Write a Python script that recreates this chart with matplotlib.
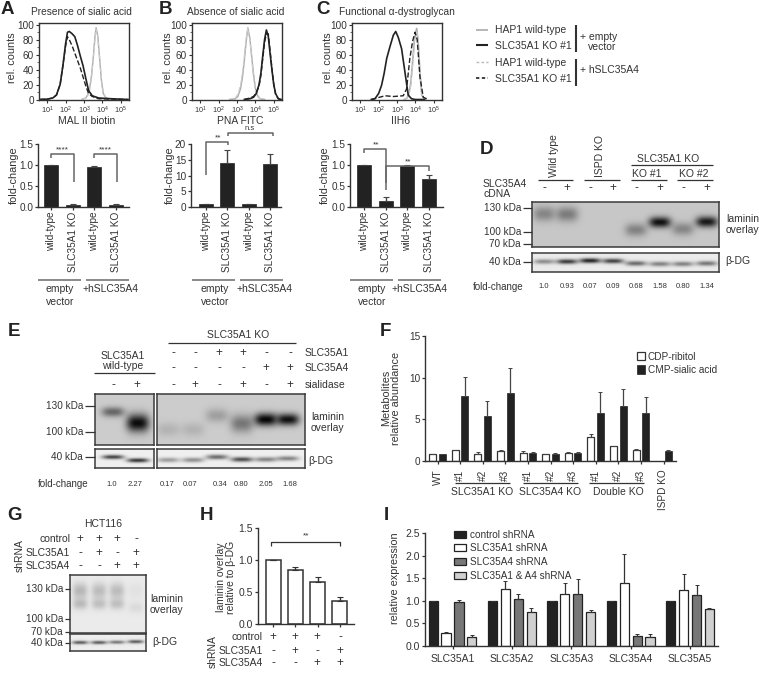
import matplotlib
matplotlib.use("Agg")
import matplotlib.pyplot as plt
import numpy as np
from matplotlib.patches import Patch

plt.rcParams['font.family'] = ['Liberation Sans', 'DejaVu Sans']
plt.rcParams['mathtext.default'] = 'regular'
plt.rcParams['text.color'] = '#333333'
plt.rcParams['axes.labelcolor'] = '#333333'
plt.rcParams['xtick.labelcolor'] = '#333333'
plt.rcParams['ytick.labelcolor'] = '#333333'

W, H = 759, 673
DARK = '#222222'
GREY = '#aaaaaa'

# flow cytometry curves, log10 intensity vs rel. counts
a_wt_log = [2.9, 3.1, 3.2, 3.3, 3.4, 3.5, 3.6, 3.66, 3.75, 3.85, 3.95, 4.05, 4.2, 4.4]
a_wt_ev = [0.5, 2, 6, 14, 30, 55, 85, 96, 85, 55, 25, 8, 2, 0.5]
a_wt_a4 = [0.5, 2, 5, 12, 28, 52, 82, 94, 84, 56, 26, 9, 2, 0.5]
a_ko_log = [0.6, 1.0, 1.3, 1.5, 1.7, 1.85, 2.0, 2.1, 2.2, 2.35, 2.5, 2.65, 2.8, 2.95, 3.1, 3.25, 3.45, 3.8, 4.5, 5.4]
a_ko_ev = [0, 0.5, 2, 6, 20, 45, 75, 90, 91, 88, 84, 72, 58, 45, 28, 12, 5, 2, 1, 0]
a_ko_a4 = [0, 0.5, 2, 6, 20, 45, 72, 84, 80, 72, 62, 52, 42, 30, 18, 8, 4, 1, 0.5, 0]

b_wt_log = [2.6, 2.9, 3.05, 3.2, 3.3, 3.4, 3.5, 3.59, 3.7, 3.8, 3.9, 4.0, 4.1, 4.25, 4.5]
b_wt_ev = [0, 1, 4, 15, 30, 52, 78, 96, 82, 58, 34, 15, 6, 1, 0]
b_wt_a4 = [0, 2, 7, 20, 36, 58, 82, 95, 80, 54, 30, 12, 4, 1, 0]
b_ko_log = [3.4, 3.7, 3.9, 4.05, 4.2, 4.3, 4.4, 4.5, 4.6, 4.7, 4.8, 4.9, 5.0, 5.1, 5.25, 5.4]
b_ko_ev = [0, 1, 3, 8, 20, 35, 58, 80, 93, 85, 62, 40, 20, 8, 1, 0]
b_ko_a4 = [0, 2, 4, 9, 18, 32, 54, 76, 88, 88, 66, 42, 21, 7, 1, 0]

c_wt_log = [3.4, 3.55, 3.65, 3.75, 3.85, 3.95, 4.07, 4.15, 4.25, 4.35, 4.5]
c_wt_ev = [0, 2, 8, 22, 50, 80, 95, 78, 35, 6, 0]
c_wt_a4 = [0, 2, 6, 18, 45, 78, 92, 80, 38, 7, 0]
c_ko_log = [1.6, 1.8, 2.0, 2.16, 2.3, 2.44, 2.62, 2.8, 2.93, 3.07, 3.25, 3.43, 3.61, 3.79, 4.0, 4.5]
c_ko_ev = [0, 1, 8, 19, 35, 55, 71, 86, 91, 83, 68, 37, 6, 1, 0, 0]
c_koa4_log = [1.6, 1.9, 2.35, 2.8, 3.34, 3.52, 3.7, 3.85, 3.98, 4.1, 4.25, 4.43, 4.7]
c_koa4_cnt = [0, 2, 5, 4, 5, 14, 55, 78, 90, 80, 30, 3, 0]

# fold-change bars
bar_labels = ['wild-type', 'SLC35A1 KO', 'wild-type', 'SLC35A1 KO']
a_vals = [1.0, 0.05, 0.96, 0.05]
a_errs = [0.0, 0.01, 0.02, 0.01]
b_vals = [1.0, 14.0, 1.0, 13.5]
b_errs = [0.1, 4.2, 0.1, 3.4]
c_vals = [1.0, 0.15, 0.98, 0.67]
c_errs = [0.0, 0.1, 0.03, 0.1]

# panel F
f_labels = ['WT', '#1', '#2', '#3', '#1', '#2', '#3', '#1', '#2', '#3', 'ISPD KO']
f_ribitol = [0.9, 1.3, 0.9, 1.2, 1.0, 0.85, 1.0, 2.85, 1.75, 1.35, 0.0]
f_ribitol_err = [0.0, 0.05, 0.2, 0.1, 0.2, 0.05, 0.1, 0.45, 0.05, 0.1, 0.0]
f_sialic = [0.9, 7.8, 5.4, 8.2, 1.0, 0.9, 1.0, 5.8, 6.6, 5.75, 1.2]
f_sialic_err = [0.0, 2.3, 1.75, 2.95, 0.1, 0.05, 0.05, 2.5, 2.0, 1.9, 0.15]

# panel H
h_vals = [1.0, 0.84, 0.66, 0.36]
h_errs = [0.0, 0.05, 0.08, 0.06]

# panel I
i_genes = ['SLC35A1', 'SLC35A2', 'SLC35A3', 'SLC35A4', 'SLC35A5']
i_names = ['control shRNA', 'SLC35A1 shRNA', 'SLC35A4 shRNA', 'SLC35A1 & A4 shRNA']
i_vals = [[1, 1, 1, 1, 1],
          [0.28, 1.27, 1.15, 1.39, 1.24],
          [0.97, 1.05, 1.15, 0.22, 1.12],
          [0.20, 0.76, 0.76, 0.19, 0.81]]
i_errs = [[0, 0, 0, 0, 0],
          [0.02, 0.17, 0.25, 0.65, 0.35],
          [0.05, 0.10, 0.33, 0.05, 0.24],
          [0.05, 0.09, 0.04, 0.08, 0.04]]

# blots: band darkness per lane and band height inside the blot (0 top, 1 bottom)
d_dark = [0.33, 0.38, 0, 0, 0.35, 0.92, 0.33, 0.88]
d_pos = [0.26, 0.27, 0.5, 0.5, 0.62, 0.45, 0.6, 0.44]
d_ld_dark = [0.4, 0.75, 0.85, 0.72, 0.55, 0.45, 0.45, 0.5]
d_fold = ['1.0', '0.93', '0.07', '0.09', '0.68', '1.58', '0.80', '1.34']
e_wt_dark = [0.5, 0.95]
e_wt_pos = [0.35, 0.57]
e_ko_dark = [0.12, 0.12, 0.22, 0.42, 0.97, 0.92]
e_ko_pos = [0.70, 0.70, 0.42, 0.58, 0.50, 0.50]
e_ld_wt = [0.72, 0.78]
e_ld_ko = [0.35, 0.4, 0.55, 0.68, 0.45, 0.45]
e_fold = ['1.0', '2.27', '0.17', '0.07', '0.34', '0.80', '2.05', '1.68']
g_upper = [0.22, 0.2, 0.2, 0.04]
g_lower = [0.2, 0.18, 0.18, 0.07]
g_ld_dark = [0.62, 0.62, 0.5, 0.62]

fig = plt.figure(figsize=(W / 100, H / 100), dpi=100)
ov = fig.add_axes([0, 0, 1, 1], zorder=10)
ov.set_xlim(0, W)
ov.set_ylim(H, 0)
ov.axis('off')


def px_axes(left, top, right, bottom):
    return fig.add_axes([left / W, 1 - bottom / H, (right - left) / W, (bottom - top) / H])


def txt(x, y, s, size=7.5, ha='left', **kw):
    ov.text(x, y, s, fontsize=size, ha=ha, va='center', **kw)


def seg(xs, ys, color='#333333', lw=1.0, **kw):
    ov.plot(xs, ys, color=color, lw=lw, solid_capstyle='butt', **kw)


def letter(x, y, s):
    txt(x, y, s, size=13.5, fontweight='bold', color='#222222')


def style(ax, size=7.2):
    for side in ['top', 'right']:
        ax.spines[side].set_visible(False)
    for side in ['left', 'bottom']:
        ax.spines[side].set_linewidth(1.0)
        ax.spines[side].set_color('#333333')
    ax.tick_params(length=2.5, width=0.9, labelsize=size, pad=1, color='#333333')


def ylab(ax, s, x, y, size=7.8):
    ax.set_ylabel(s, fontsize=size, va='center', ha='center', linespacing=1.05)
    ax.yaxis.set_label_coords(x, y, transform=ov.transData)


def hist_panel(left, xlabel, curves, title, title_x, ylab_x):
    ax = px_axes(left, 22.5, left + 90, 99.5)
    for lx, cnt, color, ls, lw in curves:
        ax.plot(10 ** np.array(lx), cnt, color=color, ls=ls, lw=lw)
    ax.set_xscale('log')
    ax.set_xlim(10 ** 0.55, 10 ** 5.45)
    ax.set_ylim(0, 103)
    ax.set_yticks([0, 20, 40, 60, 80, 100])
    ax.set_yticks([10, 30, 50, 70, 90], minor=True)
    ax.set_xticks([10, 100, 1000, 10000, 100000])
    ax.set_xticklabels(['$10^{%d}$' % i for i in range(1, 6)])
    ax.tick_params(length=2.5, width=0.8, labelsize=7.2, pad=1, color='#333333')
    ax.tick_params(axis='x', labelsize=5.2, pad=1.5)
    ax.tick_params(which='minor', length=1.3, width=0.5, color='#333333')
    for sp in ax.spines.values():
        sp.set_linewidth(1.0)
        sp.set_color('#333333')
    ylab(ax, 'rel. counts', ylab_x, 58)
    ax.set_xlabel(xlabel, fontsize=7.5, va='center')
    ax.xaxis.set_label_coords(left + 48, 120.5, transform=ov.transData)
    txt(title_x, 12, title, size=7.3)
    return ax


def fold_panel(left, right, first, step, vals, errs, ymax, yticks, fmt, ylab_x):
    ax = px_axes(left, 144, right, 207)
    x = np.arange(len(vals))
    ax.bar(x, vals, width=14 / step, color=DARK, edgecolor=DARK, lw=0.5)
    ax.errorbar(x, vals, yerr=[np.zeros(len(errs)), errs], fmt='none',
                ecolor='#444444', elinewidth=1.0, capsize=2, capthick=0.8)
    ax.set_xlim((left - first) / step, (right - first) / step)
    ax.set_ylim(0, ymax)
    ax.set_yticks(yticks)
    ax.set_yticklabels([fmt % t for t in yticks])
    ax.set_xticks(x)
    ax.set_xticklabels(bar_labels, rotation=90)
    style(ax, 7.2)
    ylab(ax, 'fold-change', ylab_x, 175)
    return ax


def blot(left, top, right, bottom, bg, lanes, dark, pos, sx=9.0, sy=3.5):
    # gaussian bands on a grey membrane, sy may be one value per lane
    xs = np.linspace(left, right, int((right - left) * 2))
    ys = np.linspace(top, bottom, int((bottom - top) * 2))
    X, Y = np.meshgrid(xs, ys)
    img = np.full(X.shape, float(bg))
    sy_all = np.broadcast_to(sy, (len(lanes),))
    for lane, d, p, s in zip(lanes, dark, pos, sy_all):
        yc = top + p * (bottom - top)
        band = np.exp(-(np.abs(X - lane) / sx) ** 3) * np.exp(-((Y - yc) / s) ** 2)
        img = img * (1 - d * band)
    ax = px_axes(left, top, right, bottom)
    ax.imshow(img, cmap='gray', vmin=0, vmax=1, aspect='auto', interpolation='bilinear',
              extent=(left, right, bottom, top))
    ax.set_xticks([])
    ax.set_yticks([])
    for sp in ax.spines.values():
        sp.set_linewidth(1.1)
        sp.set_color('#3a3a3a')
    return ax


def size_marks(labels, ys, right, tick_end):
    for lab, y in zip(labels, ys):
        txt(right, y, lab, ha='right', size=7.2)
        seg([right + 2, tick_end], [y, y], lw=0.9)


# A B C histograms
letter(1, 10, 'A')
letter(159, 10, 'B')
letter(316, 10, 'C')
hist_panel(39, 'MAL II biotin',
           [(a_wt_log, a_wt_ev, GREY, '-', 1.0), (a_wt_log, a_wt_a4, '#cccccc', '--', 0.9),
            (a_ko_log, a_ko_ev, DARK, '-', 1.2), (a_ko_log, a_ko_a4, DARK, '--', 1.0)],
           'Presence of sialic acid', 31, 12)
hist_panel(192, 'PNA FITC',
           [(b_wt_log, b_wt_ev, GREY, '-', 1.0), (b_wt_log, b_wt_a4, '#cccccc', '--', 0.9),
            (b_ko_log, b_ko_ev, DARK, '-', 1.2), (b_ko_log, b_ko_a4, DARK, '--', 1.0)],
           'Absence of sialic acid', 187, 168)
hist_panel(352, 'IIH6',
           [(c_wt_log, c_wt_ev, GREY, '-', 1.2), (c_wt_log, c_wt_a4, '#cccccc', '--', 0.9),
            (c_ko_log, c_ko_ev, DARK, '-', 1.2), (c_koa4_log, c_koa4_cnt, DARK, '--', 1.0)],
           'Functional α-dystroglycan', 339, 328)

# legend next to the histograms
seg([476, 488], [30, 30], color=GREY, lw=1.2)
seg([476, 488], [45, 45], color=DARK, lw=1.5)
seg([476, 488], [62, 62], color='#bbbbbb', lw=1.0, ls=(0, (2, 1.5)))
seg([476, 488], [78, 78], color=DARK, lw=1.2, ls=(0, (2, 1.5)))
txt(495, 30, 'HAP1 wild-type')
txt(495, 46, 'SLC35A1 KO #1')
txt(495, 63, 'HAP1 wild-type')
txt(495, 79, 'SLC35A1 KO #1')
seg([576, 576], [25, 52], lw=1.5)
seg([576, 576], [59, 86], lw=1.5)
txt(580, 37, '+ empty')
txt(588, 47, 'vector')
txt(580, 70, '+ hSLC35A4')

# A B C bars
fold_panel(38, 129, 51, 21.7, a_vals, a_errs, 1.5, [0.0, 0.5, 1.0, 1.5], '%.1f', 14)
fold_panel(191, 281, 206, 21.3, b_vals, b_errs, 20, [0, 5, 10, 15, 20], '%d', 170)
fold_panel(350, 443, 364, 21.7, c_vals, c_errs, 1.5, [0.0, 0.5, 1.0, 1.5], '%.1f', 325)

seg([51, 51, 74, 74], [158, 153.5, 153.5, 182], color='#666666', lw=1.1)
seg([94, 94, 116.5, 116.5], [158, 153.5, 153.5, 182], color='#666666', lw=1.1)
txt(62.5, 150, '****', size=6, ha='center')
txt(105, 150, '****', size=6, ha='center')
seg([206, 206, 228, 228], [175, 142, 142, 145], color='#666666', lw=1.1)
seg([228, 228, 272.5, 272.5], [135.5, 133.3, 133.3, 135.5], color='#666666', lw=1.1)
txt(218, 138, '**', size=6, ha='center')
txt(250, 128, 'n.s', size=5.5, ha='center')
seg([364, 364, 386, 386], [153, 149, 149, 183], color='#666666', lw=1.1)
seg([386, 386, 429, 429], [190, 166, 166, 171], color='#666666', lw=1.1)
txt(376, 145, '**', size=6, ha='center')
txt(408, 162, '**', size=6, ha='center')

for x0, x1, x2, x3, cx1, cx2 in [(38, 81, 86, 129, 60, 111),
                                 (192, 235, 240, 283, 215, 265),
                                 (350, 393, 398, 441, 372, 420)]:
    seg([x0, x1], [280, 280], color='#777777', lw=1.2)
    seg([x2, x3], [280, 280], color='#777777', lw=1.2)
    txt(cx1, 289, 'empty', ha='center')
    txt(cx1, 302, 'vector', ha='center')
    txt(cx2, 289, '+hSLC35A4', ha='center')

# D
letter(480, 150, 'D')
d_lanes = np.array([544, 567, 590, 613, 636, 660, 683, 707])
blot(532, 202, 719, 247, 0.78, d_lanes, d_dark, d_pos, sx=11,
     sy=[7.5, 7.5, 5, 5, 6.5, 5.5, 6.5, 5.5])
blot(532, 253, 719, 272, 0.92, d_lanes, d_ld_dark, [0.45, 0.45, 0.4, 0.42, 0.55, 0.58, 0.58, 0.55], sx=10.5, sy=2.5)
txt(554, 156, 'Wild type', rotation=90, ha='center')
txt(600, 156, 'ISPD KO', rotation=90, ha='center')
for x0, x1 in [(538, 573), (584, 620), (631, 667), (677, 713)]:
    seg([x0, x1], [180, 180], lw=0.9)
seg([631, 713], [165, 165], lw=0.9)
txt(668, 159, 'SLC35A1 KO', ha='center')
txt(647, 174, 'KO #1', ha='center')
txt(694, 174, 'KO #2', ha='center')
txt(483, 184, 'SLC35A4')
txt(483, 194, 'cDNA')
for x, s in zip(d_lanes, ['-', '+'] * 4):
    txt(x, 188, s, ha='center', size=8.5)
size_marks(['130 kDa', '100 kDa', '70 kDa', '40 kDa'], [208, 232, 244, 262], 521, 532)
txt(726, 219, 'laminin')
txt(726, 230, 'overlay')
txt(725, 261, 'β-DG')
txt(473, 287, 'fold-change', size=7)
for x, s in zip(d_lanes, d_fold):
    txt(x, 287, s, ha='center', size=5.5)

# E
letter(8, 332, 'E')
e_wt_lanes = np.array([113, 138])
e_ko_lanes = np.array([168, 193, 217, 242, 266, 288])
blot(95, 394, 154, 445, 0.8, e_wt_lanes, e_wt_dark, e_wt_pos, sx=11.5, sy=[5, 9])
blot(157, 394, 305, 445, 0.8, e_ko_lanes, e_ko_dark, e_ko_pos, sx=11.5, sy=[7, 7, 7, 9, 6.5, 6])
blot(95, 449, 154, 468, 0.94, e_wt_lanes, e_ld_wt, [0.42, 0.6], sx=11, sy=2.2)
blot(157, 449, 305, 468, 0.94, e_ko_lanes, e_ld_ko, [0.58, 0.58, 0.42, 0.55, 0.55, 0.5], sx=11, sy=2.5)
txt(238, 335, 'SLC35A1 KO', ha='center')
seg([168, 296], [343, 343], lw=0.9)
txt(123, 356, 'SLC35A1', ha='center')
txt(123, 366, 'wild-type', ha='center')
seg([94, 155], [373, 373], lw=0.9)
e_cols = [173, 195, 219, 243, 266, 290]
for row_y, row_name, signs in [(353, 'SLC35A1', '--++--'), (368, 'SLC35A4', '----++'), (385, 'sialidase', '-+-+-+')]:
    for x, s in zip(e_cols, signs):
        txt(x, row_y, s, ha='center', size=8.5)
    txt(305, row_y, row_name)
txt(113, 385, '-', ha='center', size=8.5)
txt(137, 385, '+', ha='center', size=8.5)
size_marks(['130 kDa', '100 kDa', '40 kDa'], [406, 432, 457], 83, 95)
txt(311, 417, 'laminin')
txt(311, 428, 'overlay')
txt(308, 461, 'β-DG')
txt(38, 484, 'fold-change', size=7)
for x, s in zip([112, 135, 167, 190, 220, 241, 266, 290], e_fold):
    txt(x, 484, s, ha='center', size=5.5)

# F
letter(380, 332, 'F')
axf = px_axes(425, 336, 676, 461)
xf = np.arange(len(f_labels))
w_f = 7 / 22.6
axf.bar(xf[:-1] - 0.21, f_ribitol[:-1], width=w_f, color='white', edgecolor='#333333', lw=0.9, label='CDP-ribitol')
axf.bar(xf + 0.21, f_sialic, width=w_f, color=DARK, edgecolor=DARK, lw=0.5, label='CMP-sialic acid')
axf.errorbar(xf[:-1] - 0.21, f_ribitol[:-1], yerr=[np.zeros(len(xf) - 1), f_ribitol_err[:-1]], fmt='none',
             ecolor='#444444', elinewidth=0.9, capsize=1.5, capthick=0.7)
axf.errorbar(xf + 0.21, f_sialic, yerr=[np.zeros(len(xf)), f_sialic_err], fmt='none',
             ecolor='#444444', elinewidth=0.9, capsize=1.5, capthick=0.7)
axf.set_xlim((425 - 437.5) / 22.6, (676 - 437.5) / 22.6)
axf.set_ylim(0, 15)
axf.set_yticks([0, 5, 10, 15])
axf.set_xticks(xf)
axf.set_xticklabels(f_labels, rotation=90)
style(axf, 7.2)
axf.tick_params(axis='x', length=2, pad=4)
ylab(axf, 'Metabolites\nrelative abundance', 391, 398)
axf.legend(loc='upper left', bbox_to_anchor=(636.5, 351.5), bbox_transform=ov.transData, frameon=False,
           fontsize=7.2, handlelength=0.85, handleheight=0.9, handletextpad=0.25, labelspacing=0.35,
           borderpad=0, borderaxespad=0)
for x0, x1, cx, s in [(455, 510, 482, 'SLC35A1 KO'), (523, 578, 550, 'SLC35A4 KO'), (589, 644, 618, 'Double KO')]:
    seg([x0, x1], [483, 483], lw=0.9)
    txt(cx, 492, s, ha='center')

# G
letter(7, 515, 'G')
g_lanes = np.array([80, 99, 117, 136])
blot(70, 575, 146, 633, 0.92, list(g_lanes) * 2, g_upper + g_lower,
     [0.27, 0.27, 0.27, 0.27, 0.5, 0.5, 0.5, 0.56], sx=7.5, sy=[8, 8, 8, 8, 5.5, 5.5, 5.5, 5.5])
blot(70, 634, 146, 651, 0.93, g_lanes, g_ld_dark, [0.5, 0.5, 0.48, 0.45], sx=8, sy=1.8)
txt(103, 524, 'HCT116', ha='center')
g_cols = [80, 99, 117, 136]
for row_y, name, signs in [(539, 'control', '+++-'), (553, 'SLC35A1', '-+-+'), (566, 'SLC35A4', '--++')]:
    txt(70, row_y, name, ha='right')
    for x, s in zip(g_cols, signs):
        txt(x, row_y, s, ha='center', size=8.5)
txt(20, 556, 'shRNA', rotation=90, ha='center')
size_marks(['130 kDa', '100 kDa', '70 kDa', '40 kDa'], [589, 619, 632, 643], 63, 70)
txt(150, 599, 'laminin')
txt(150, 610, 'overlay')
txt(152, 642, 'β-DG')

# H
letter(200, 515, 'H')
axh = px_axes(258, 528, 354, 624)
xh = np.arange(len(h_vals))
axh.bar(xh, h_vals, width=15 / 22.3, color='white', edgecolor='#333333', lw=1.1)
axh.errorbar(xh, h_vals, yerr=[np.zeros(len(h_errs)), h_errs], fmt='none',
             ecolor='#333333', elinewidth=1.0, capsize=2.2, capthick=0.8)
axh.set_xlim((258 - 273) / 22.3, (354 - 273) / 22.3)
axh.set_ylim(0, 1.5)
axh.set_yticks([0.0, 0.5, 1.0, 1.5])
axh.set_yticklabels(['0.0', '0.5', '1.0', '1.5'])
axh.set_xticks(xh)
axh.set_xticklabels([])
style(axh, 7.5)
ylab(axh, 'laminin overlay\nrelative to β-DG', 226, 577, size=7.5)
seg([271, 271, 340, 340], [546, 542, 542, 546], lw=0.9)
txt(306, 536, '**', size=6, ha='center')
for row_y, name, signs in [(637, 'control', '+++-'), (651, 'SLC35A1', '-+-+'), (663, 'SLC35A4', '--++')]:
    txt(263, row_y, name, ha='right')
    for x, s in zip([273, 295, 317, 340], signs):
        txt(x, row_y, s, ha='center', size=8.5)
txt(213, 652, 'shRNA', rotation=90, ha='center')

# I
letter(384, 515, 'I')
axi = px_axes(425, 533, 718, 646)
i_colors = [DARK, 'white', '#777777', '#d0d0d0']
for j, (vals, errs, color) in enumerate(zip(i_vals, i_errs, i_colors)):
    xi = np.arange(len(i_genes)) + (j - 1.5) * 0.217
    axi.bar(xi, vals, width=0.155, color=color, edgecolor='#222222', lw=0.9)
    axi.errorbar(xi, vals, yerr=[np.zeros(len(errs)), errs], fmt='none',
                 ecolor='#333333', elinewidth=0.9, capsize=1.7, capthick=0.7)
axi.set_xlim((425 - 452.5) / 59.4, (718 - 452.5) / 59.4)
axi.set_ylim(0, 2.5)
axi.set_yticks([0.0, 0.5, 1.0, 1.5, 2.0, 2.5])
axi.set_yticklabels(['0.0', '0.5', '1.0', '1.5', '2.0', '2.5'])
axi.set_xticks(np.arange(len(i_genes)))
axi.set_xticklabels(i_genes)
style(axi, 7.5)
axi.tick_params(axis='x', pad=3)
ylab(axi, 'relative expression', 395, 578)
handles = [Patch(facecolor=c, edgecolor='#222222', lw=0.9) for c in i_colors]
axi.legend(handles, i_names, loc='upper left', bbox_to_anchor=(454, 529.5), bbox_transform=ov.transData,
           frameon=False, fontsize=7.2, handlelength=1.15, handleheight=0.7, handletextpad=0.5,
           labelspacing=0.37, borderpad=0, borderaxespad=0)

fig.savefig('out.png', dpi=100)
